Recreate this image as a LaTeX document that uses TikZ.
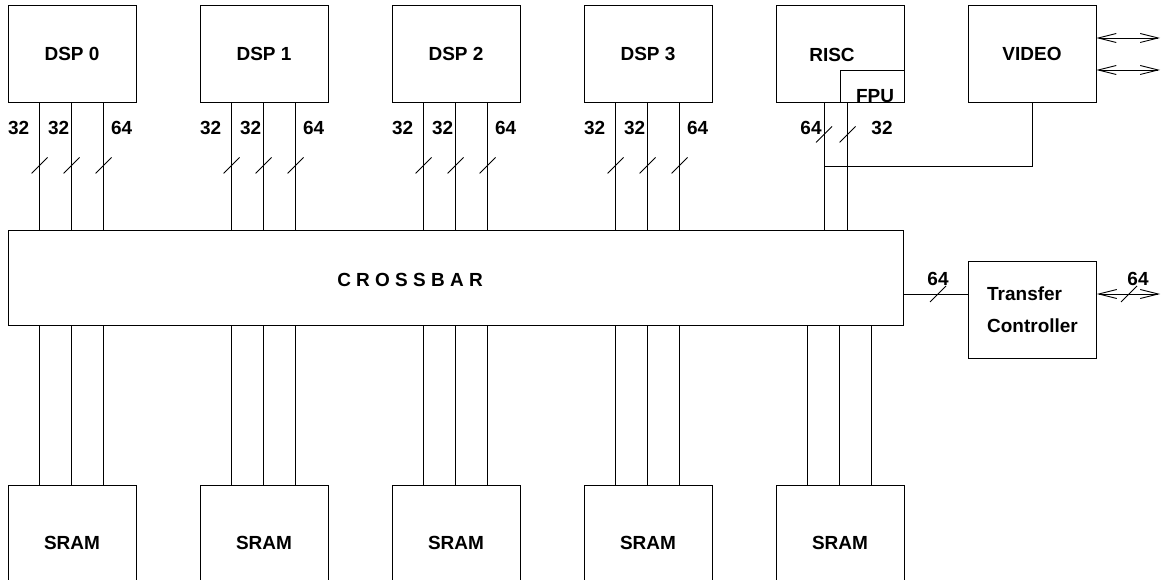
\documentclass[tikz,border=0pt]{standalone}
\usepackage{fontspec}
\setmainfont{Liberation Sans}
\usetikzlibrary{arrows.meta}

\tikzset{
	unit/.style = {draw, minimum width=2.56cm, minimum height=1.94cm, inner sep=0pt, font=\fontsize{10.8}{12}\selectfont\bfseries},
	lbl/.style = {inner sep=0pt, font=\fontsize{10.8}{12}\selectfont\bfseries},
	>={Straight Barb[length=0.36cm,width=0.18cm]}
}
\newcommand{\busmark}[1]{\draw ([shift={(-8,8)}]#1) -- ([shift={(8,-8)}]#1);}

\begin{document}
\begin{tikzpicture}[x=0.02cm, y=-0.02cm, line width=0.5pt]
	\useasboundingbox (0,0) rectangle (1165,580);
	% processors
	\foreach \i in {0,...,3}
		\node [unit] (dsp\i) at (72+192*\i,53.5) {DSP \i};
	\node [unit] (risc) at (840,53.5) {};
	\node [lbl] (risctxt) at (832,55) {RISC};
	\node [lbl, anchor=base] (fputxt) at (875,102.5) {FPU};
	\node [draw, minimum width=1.28cm, minimum height=0.64cm] (fpu) at (872,86) {};
	\node [unit] (video) at (1032,53.5) {VIDEO};
	% crossbar and memories
	\node [draw, minimum width=17.92cm, minimum height=1.9cm] (xbar) at (456,277.5) {};
	\node [lbl] (xbartxt) at (410,280) {C R O S S B A R};
	\foreach \i in {0,...,4}
		\node [unit, minimum height=2.32cm] (sram\i) at (72+192*\i,543) {SRAM};
	\node [unit, align=left] (tc) at (1032.5,310) {Transfer\\[6pt]Controller};
	% dsp buses
	\foreach \i in {0,...,3} {
		\foreach \d in {32,64,96} {
			\draw ([shift={(\d,0)}]dsp\i.south west) coordinate (p) -- (p |- xbar.north);
			\coordinate (b) at ([shift={(\d,63)}]dsp\i.south west);
			\busmark{b}
		}
		\node [lbl] (w\i a) at ([shift={(11,26)}]dsp\i.south west) {32};
		\node [lbl] (w\i b) at ([shift={(51,26)}]dsp\i.south west) {32};
		\node [lbl] (w\i c) at ([shift={(114,26)}]dsp\i.south west) {64};
	}
	% memory buses
	\foreach \i in {0,...,4}
		\foreach \d in {32,64,96}
			\draw ([shift={(\d,0)}]sram\i.north west) coordinate (q) -- (q |- xbar.south);
	% risc and fpu
	\coordinate (r64) at ([shift={(-16,0)}]risc.south);
	\coordinate (f32) at ([shift={(8,0)}]fpu.south west);
	\draw (r64) -- (r64 |- xbar.north);
	\draw (f32) -- (f32 |- xbar.north);
	\coordinate (r64m) at ([shift={(0,32)}]r64);
	\coordinate (f32m) at ([shift={(0,32)}]f32);
	\busmark{r64m}
	\busmark{f32m}
	\node [lbl] (wr) at (811,128) {64};
	\node [lbl] (wf) at (882,128) {32};
	% video
	\coordinate (vj) at (824,166);
	\draw (video.south) |- (vj);
	\coordinate (vout1) at (1160,38);
	\coordinate (vout2) at (1160,70);
	\draw [<->] (vout1 -| video.east) -- (vout1);
	\draw [<->] (vout2 -| video.east) -- (vout2);
	% transfer controller
	\coordinate (tcout) at (1160,294);
	\draw (tcout -| xbar.east) -- (tcout -| tc.west);
	\draw [<->] (tcout -| tc.east) -- (tcout);
	\coordinate (t1) at (938,294);
	\coordinate (t2) at (1129,294);
	\busmark{t1}
	\busmark{t2}
	\node [lbl] (wt1) at (938,279) {64};
	\node [lbl] (wt2) at (1138,279) {64};
\end{tikzpicture}
\end{document}
